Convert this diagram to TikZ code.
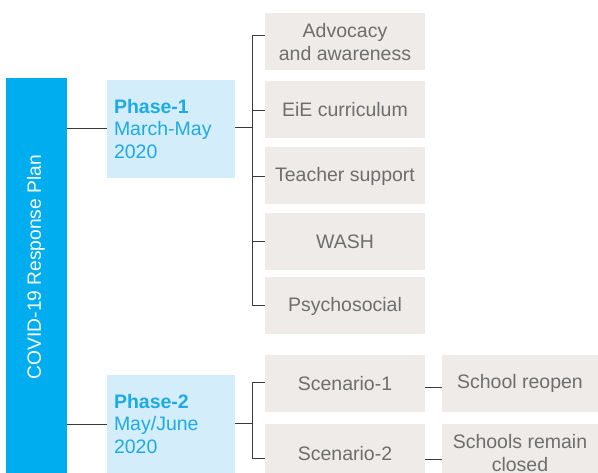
\documentclass[tikz,border=0pt]{standalone}
\usepackage{fontspec}
\setmainfont{Liberation Sans}
\definecolor{planblue}{HTML}{00AEEF}
\definecolor{phasefill}{HTML}{D3EDFA}
\definecolor{phasetext}{HTML}{1DAAE6}
\definecolor{itemfill}{HTML}{EEEBE8}
\definecolor{itemtext}{HTML}{6E6E6E}
\definecolor{linkcol}{HTML}{3A3A3A}
\begin{document}
\begin{tikzpicture}[x=1pt,y=1pt,
  txt/.style={font=\fontsize{19.5}{22.5}\selectfont},
  phasebox/.style={fill=phasefill, text=phasetext, txt, align=left,
    text width=114pt, inner xsep=7pt, inner ysep=0pt, minimum height=98pt},
  itembox/.style={fill=itemfill, text=itemtext, txt, align=center,
    minimum width=160pt, minimum height=57pt, inner sep=0pt},
  link/.style={draw=linkcol, line width=1pt}]
\useasboundingbox (0,0) rectangle (598,473);

% vertical plan bar
\node[fill=planblue, minimum width=61pt, minimum height=395pt, inner sep=0pt]
  (bar) at (36.5,197.5) {};
\node[rotate=90, text=white, font=\fontsize{19.2}{22}\selectfont]
  (barlabel) at (36,206) {COVID-19 Response Plan};

% phases
\node[phasebox] (p1) at (171,344) {\textbf{Phase-1}\\March-May\\2020};
\node[phasebox] (p2) at (171,49) {\textbf{Phase-2}\\May/June\\2020};

% phase 1 activities
\node[itembox] (adv) at (345,431) {Advocacy\\and awareness};
\node[itembox] (eie) at (345,363) {EiE curriculum};
\node[itembox] (tea) at (345,297) {Teacher support};
\node[itembox] (wash) at (345,231) {WASH};
\node[itembox] (psy) at (345,167) {Psychosocial};

% phase 2 scenarios and outcomes
\node[itembox] (sc1) at (345,89.5) {Scenario-1};
\node[itembox] (sc2) at (345,20.5) {};
\node[text=itemtext, txt] (sc2t) at (345,19) {Scenario-2};
\node[itembox, minimum width=156pt] (sr) at (520,89.5) {School reopen};
\node[itembox, minimum width=156pt] (src) at (520,20.5) {};
\node[text=itemtext, txt, align=center, inner sep=0pt] (srct) at (520,20)
  {Schools remain\\closed};

% trunk coordinates
\coordinate (j1) at (252,345);
\coordinate (j1top) at (252,437);
\coordinate (j1bot) at (252,167);
\coordinate (j2) at (252,49);
\coordinate (j2top) at (252,90);
\coordinate (j2bot) at (252,14);

% plan to phases
\draw[link] (bar.east |- p1.west) -- (p1.west);
\draw[link] (bar.east |- 0,48) -- (p2.west |- 0,48);

% phase 1 tree
\draw[link] (p1.east |- j1) -- (j1);
\draw[link] (j1top) -- (j1bot);
\draw[link] (j1top) -- (adv.west |- j1top);
\draw[link] (j1 |- 0,362) -- (eie.west |- 0,362);
\draw[link] (j1 |- 0,296) -- (tea.west |- 0,296);
\draw[link] (j1 |- wash.west) -- (wash.west);
\draw[link] (j1bot) -- (psy.west |- j1bot);

% phase 2 tree
\draw[link] (p2.east |- j2) -- (j2);
\draw[link] (j2top) -- (j2bot);
\draw[link] (j2top) -- (sc1.west |- j2top);
\draw[link] (j2bot) -- (sc2.west |- j2bot);
\draw[link] (sc1.east |- 0,85) -- (sr.west |- 0,85);
\draw[link] (sc2.east |- 0,13) -- (src.west |- 0,13);
\end{tikzpicture}
\end{document}
